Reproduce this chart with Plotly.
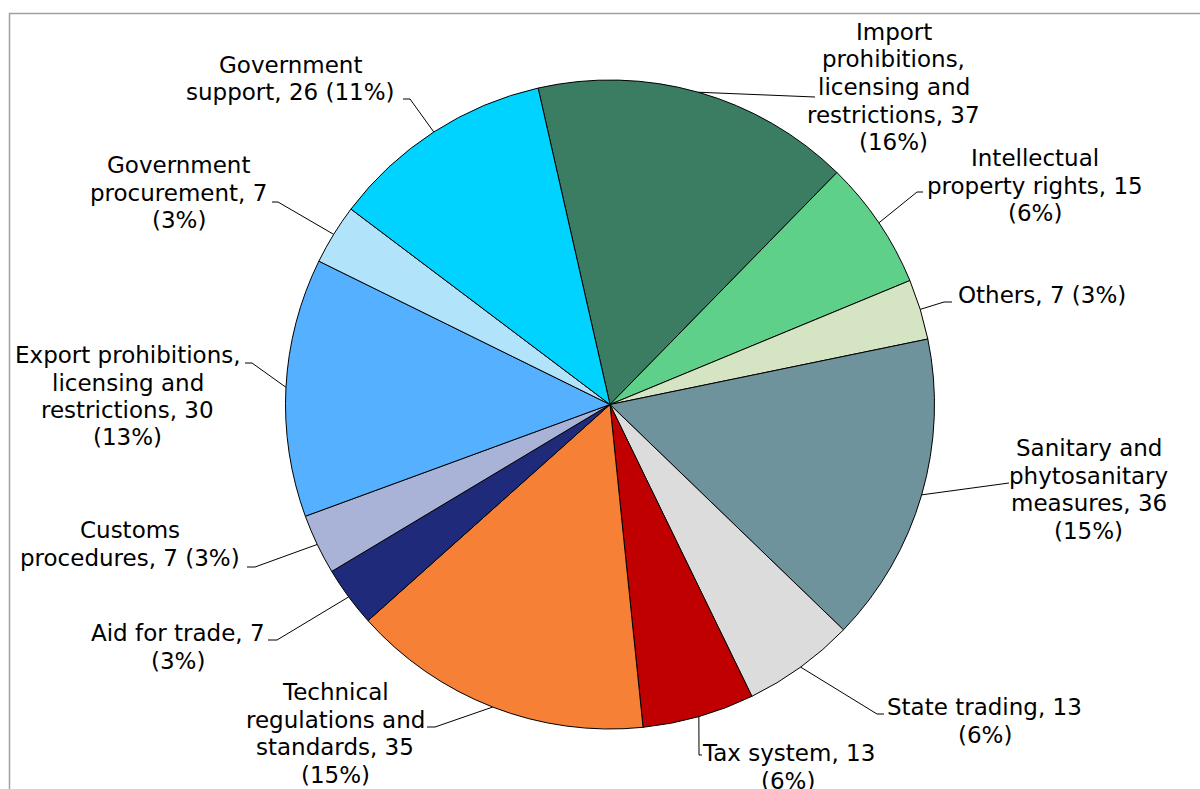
import math
import plotly.graph_objects as go

# ---- data ----
categories = [
    "Import prohibitions, licensing and restrictions",
    "Intellectual property rights",
    "Others",
    "Sanitary and phytosanitary measures",
    "State trading",
    "Tax system",
    "Technical regulations and standards",
    "Aid for trade",
    "Customs procedures",
    "Export prohibitions, licensing and restrictions",
    "Government procurement",
    "Government support",
]
counts = [37, 15, 7, 36, 13, 13, 35, 7, 7, 30, 7, 26]
percent_labels = ["16%", "6%", "3%", "15%", "6%", "6%", "15%", "3%", "3%", "13%", "3%", "11%"]
label_lines = [
    ["Import", "prohibitions,", "licensing and", "restrictions, 37", "(16%)"],
    ["Intellectual", "property rights, 15", "(6%)"],
    ["Others, 7 (3%)"],
    ["Sanitary and", "phytosanitary", "measures, 36", "(15%)"],
    ["State trading, 13", "(6%)"],
    ["Tax system, 13", "(6%)"],
    ["Technical", "regulations and", "standards, 35", "(15%)"],
    ["Aid for trade, 7", "(3%)"],
    ["Customs", "procedures, 7 (3%)"],
    ["Export prohibitions,", "licensing and", "restrictions, 30", "(13%)"],
    ["Government", "procurement, 7", "(3%)"],
    ["Government", "support, 26 (11%)"],
]
colors = ["#3A7D63", "#5ED08A", "#D5E4C3", "#6F939D", "#DCDCDC", "#C00000",
          "#F58036", "#1F2B7A", "#A9B3D8", "#55B0FF", "#B1E3FA", "#00D3FF"]

# ---- layout constants (pixels) ----
W, H = 1200, 789
CX, CY, R = 610.0, 404.5, 324.5
ROT = -12.8
LINE_H = 27.5
FONT = dict(family="DejaVu Sans", size=23, color="black")

# label placement: (center x, first-line center y, elbow/tick points from text side)
label_pos = [
    (893.5, 32, [(815, 97)]),
    (1034.5, 158, [(923, 192), (917, 192)]),
    (1041.5, 295, [(952, 302), (944, 302)]),
    (1088.5, 448, [(1009, 483)]),
    (984.5, 707, [(884, 714), (877, 714)]),
    (788, 753, [(702, 755), (699, 755)]),
    (335, 692, [(427, 727), (435, 727)]),
    (177.5, 633, [(268, 640), (277, 640)]),
    (129.5, 530, [(247, 567), (255, 567)]),
    (127.5, 355, [(245, 363), (252, 363)]),
    (178.5, 165, [(272, 202), (278, 202)]),
    (290, 65, [(403, 99), (410, 99)]),
]


def px(x):
    return x / W


def py(y):
    return 1 - y / H


fig = go.Figure(go.Pie(
    labels=categories,
    values=counts,
    sort=False,
    direction="clockwise",
    rotation=ROT,
    textinfo="none",
    hoverinfo="label+value+percent",
    marker=dict(colors=colors, line=dict(color="black", width=1)),
    domain=dict(x=[px(CX - R), px(CX + R)], y=[py(CY + R), py(CY - R)]),
    showlegend=False,
))

total = sum(counts)
annotations = []
shapes = [dict(type="rect", xref="paper", yref="paper",
               x0=px(9.5), x1=px(1400), y0=py(1000), y1=py(13.5),
               line=dict(color="#A0A0A0", width=1.5), fillcolor="rgba(0,0,0,0)", layer="below")]
cum = 0
for i, v in enumerate(counts):
    mid = math.radians(ROT + 360.0 * (cum + v / 2.0) / total)
    cum += v
    ex = CX + R * math.sin(mid)
    ey = CY - R * math.cos(mid)
    lx, ly, pts = label_pos[i]
    path_pts = pts + [(ex, ey)]
    d = "M " + " L ".join(f"{px(x)},{py(y)}" for x, y in path_pts)
    shapes.append(dict(type="path", xref="paper", yref="paper", path=d,
                       line=dict(color="black", width=1)))
    for j, t in enumerate(label_lines[i]):
        annotations.append(dict(text=t, x=px(lx), y=py(ly + j * LINE_H),
                                xref="paper", yref="paper", xanchor="center",
                                yanchor="middle", showarrow=False, font=FONT))

fig.update_layout(
    width=W, height=H,
    margin=dict(l=0, r=0, t=0, b=0),
    paper_bgcolor="white",
    plot_bgcolor="white",
    annotations=annotations,
    shapes=shapes,
)

fig.write_html("out.html")
